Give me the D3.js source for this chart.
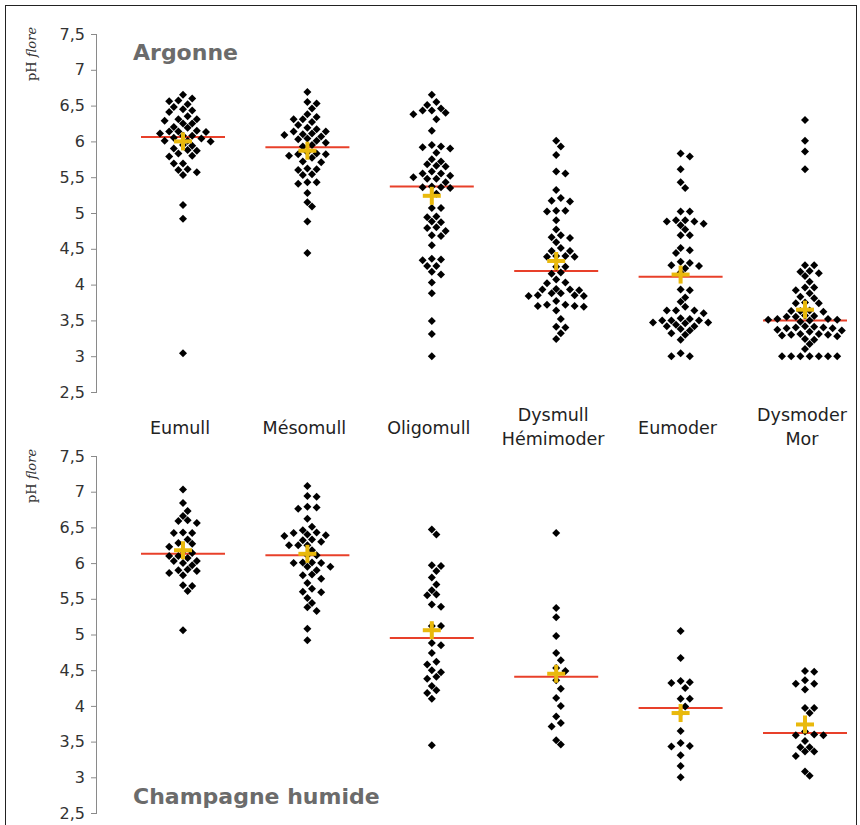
<!DOCTYPE html>
<html>
<head>
<meta charset="utf-8">
<script src="https://cdn.jsdelivr.net/npm/d3@7/dist/d3.min.js"></script>
<style>
  body { margin: 0; background: #fff; }
  svg { display: block; }
</style>
</head>
<body>
<div id="chart"></div>
<script>
// categories (humus forms) and their displayed label lines
const categories = ["Eumull", "Mésomull", "Oligomull", "Dysmull Hémimoder", "Eumoder", "Dysmoder Mor"];
const categoryLines = [["Eumull"], ["Mésomull"], ["Oligomull"], ["Dysmull", "Hémimoder"], ["Eumoder"], ["Dysmoder", "Mor"]];
const yTicks = [2.5, 3, 3.5, 4, 4.5, 5, 5.5, 6, 6.5, 7, 7.5];

// Argonne: pH flore per plot
const argonneValues = [
  [6.65, 6.60, 6.56, 6.57, 6.52, 6.48, 6.45, 6.43, 6.41, 6.35, 6.31, 6.31, 6.29, 6.25, 6.25, 6.19, 6.20, 6.15, 6.13, 6.11,
   6.14, 6.14, 6.08, 6.08, 6.05, 6.04, 6.01, 6.01, 6.00, 5.95, 5.94, 5.90, 5.88, 5.83, 5.87, 5.79, 5.80, 5.69, 5.69, 5.61,
   5.60, 5.57, 5.53, 5.11, 4.92, 3.04],
  [6.69, 6.53, 6.55, 6.46, 6.38, 6.34, 6.31, 6.31, 6.27, 6.23, 6.17, 6.19, 6.14, 6.09, 6.11, 6.14, 6.10, 6.07, 6.03, 6.04,
   5.98, 6.01, 5.95, 5.93, 5.82, 5.83, 5.77, 5.82, 5.80, 5.85, 5.72, 5.71, 5.62, 5.60, 5.61, 5.53, 5.54, 5.43, 5.41, 5.43,
   5.28, 5.15, 5.09, 4.88, 4.44],
  [6.65, 6.55, 6.51, 6.46, 6.43, 6.40, 6.43, 6.38, 6.31, 6.15, 5.92, 5.93, 5.95, 5.90, 5.84, 5.75, 5.66, 5.68, 5.72, 5.65,
   5.58, 5.55, 5.50, 5.48, 5.48, 5.52, 5.55, 5.43, 5.36, 5.37, 5.35, 5.36, 5.27, 5.07, 5.07, 4.94, 4.95, 4.87, 4.88, 4.80,
   4.79, 4.75, 4.68, 4.69, 4.55, 4.34, 4.35, 4.36, 4.26, 4.26, 4.18, 4.14, 4.03, 3.88, 3.49, 3.31, 3.00],
  [6.01, 5.93, 5.81, 5.55, 5.58, 5.32, 5.21, 5.17, 5.16, 5.03, 5.02, 5.03, 4.90, 4.77, 4.69, 4.65, 4.66, 4.59, 4.51, 4.47,
   4.47, 4.39, 4.40, 4.39, 4.40, 4.25, 4.25, 4.17, 4.15, 4.07, 4.02, 4.03, 3.93, 3.92, 3.93, 3.94, 3.88, 3.85, 3.84, 3.84,
   3.85, 3.88, 3.77, 3.72, 3.69, 3.70, 3.70, 3.72, 3.64, 3.52, 3.40, 3.41, 3.32, 3.24],
  [5.83, 5.79, 5.61, 5.43, 5.35, 5.02, 5.02, 4.88, 4.90, 4.90, 4.88, 4.83, 4.85, 4.77, 4.69, 4.69, 4.51, 4.48, 4.44, 4.30,
   4.23, 4.26, 4.27, 4.32, 4.17, 3.92, 3.93, 3.82, 3.76, 3.69, 3.64, 3.60, 3.64, 3.64, 3.53, 3.50, 3.50, 3.50, 3.52, 3.47,
   3.42, 3.44, 3.42, 3.46, 3.47, 3.36, 3.38, 3.30, 3.32, 3.23, 3.04, 3.00, 3.00],
  [6.30, 6.01, 5.86, 5.61, 4.27, 4.27, 4.18, 4.12, 4.16, 4.19, 4.04, 3.96, 3.88, 3.92, 3.96, 3.83, 3.81, 3.74, 3.74, 3.75,
   3.63, 3.62, 3.64, 3.63, 3.56, 3.55, 3.55, 3.57, 3.52, 3.48, 3.51, 3.51, 3.52, 3.50, 3.39, 3.37, 3.41, 3.39, 3.42, 3.40,
   3.40, 3.30, 3.28, 3.30, 3.31, 3.36, 3.34, 3.31, 3.29, 3.23, 3.24, 3.17, 3.10, 3.00, 3.00, 3.00, 3.00, 3.00, 3.00, 3.00]
];
const argonneMedians = [6.06, 5.92, 5.37, 4.19, 4.11, 3.50];
const argonneMeans = [6.00, 5.87, 5.24, 4.33, 4.14, 3.65];

// Champagne humide: pH flore per plot
const champagneValues = [
  [7.03, 6.84, 6.73, 6.66, 6.59, 6.56, 6.60, 6.43, 6.42, 6.42, 6.33, 6.28, 6.27, 6.23, 6.17, 6.14, 6.10, 6.10, 6.07, 6.03,
   6.03, 6.00, 5.97, 5.90, 5.91, 5.89, 5.86, 5.83, 5.69, 5.68, 5.61, 5.06],
  [7.08, 6.93, 6.94, 6.79, 6.76, 6.78, 6.62, 6.51, 6.46, 6.43, 6.40, 6.42, 6.38, 6.39, 6.33, 6.32, 6.30, 6.25, 6.25, 6.25,
   6.18, 6.11, 6.11, 6.01, 6.00, 6.01, 6.00, 5.95, 5.95, 5.90, 5.84, 5.83, 5.78, 5.72, 5.64, 5.59, 5.60, 5.51, 5.44, 5.38,
   5.33, 5.08, 4.92],
  [6.47, 6.40, 5.96, 5.97, 5.89, 5.80, 5.70, 5.62, 5.55, 5.56, 5.39, 5.42, 5.12, 5.12, 4.85, 4.88, 4.74, 4.58, 4.62, 4.47,
   4.50, 4.38, 4.41, 4.28, 4.22, 4.18, 4.10, 3.45],
  [6.42, 5.37, 5.24, 4.98, 4.74, 4.64, 4.53, 4.49, 4.36, 4.24, 4.11, 4.00, 3.85, 3.76, 3.71, 3.52, 3.46],
  [5.05, 4.67, 4.35, 4.32, 4.33, 4.25, 4.10, 4.10, 3.99, 3.90, 3.65, 3.48, 3.44, 3.43, 3.31, 3.16, 3.00],
  [4.48, 4.49, 4.36, 4.31, 4.31, 4.23, 3.97, 3.97, 3.90, 3.64, 3.59, 3.59, 3.60, 3.51, 3.42, 3.42, 3.36, 3.36, 3.30, 3.08,
   3.02]
];
const champagneMedians = [6.13, 6.11, 4.95, 4.41, 3.97, 3.62];
const champagneMeans = [6.18, 6.13, 5.06, 4.45, 3.90, 3.74];

const width = 860;
const height = 825;
const axisX = 97;
const panels = [
  { title: "Argonne", titleY: 60, top: 34, bottom: 392, values: argonneValues, medians: argonneMedians, means: argonneMeans },
  { title: "Champagne humide", titleY: 804, top: 456, bottom: 813, values: champagneValues, medians: champagneMedians, means: champagneMeans }
];

const fontSans = "'DejaVu Sans', 'Noto Sans', sans-serif";
const commaFormat = d3.formatLocale({ decimal: ",", thousands: " ", grouping: [3], currency: ["", "€"] }).format("~g");

const x = d3.scalePoint().domain(categories).range([183, 805]);

const svg = d3.select("#chart")
  .append("svg")
  .attr("width", width)
  .attr("height", height)
  .attr("viewBox", `0 0 ${width} ${height}`);

svg.append("rect")
  .attr("x", 5.5)
  .attr("y", 5.5)
  .attr("width", 851)
  .attr("height", 830)
  .attr("fill", "none")
  .attr("stroke", "#222")
  .attr("stroke-width", 1);

// simple beeswarm: each point takes the nearest free horizontal slot
function swarm(values, y, step, minDist) {
  const placed = [];
  const sorted = values.map((v) => ({ v, py: y(v) })).sort((a, b) => a.py - b.py);
  for (const p of sorted) {
    for (let k = 0; ; k++) {
      const dx = (k % 2 ? 1 : -1) * Math.ceil(k / 2) * step;
      if (placed.every((q) => Math.abs(q.dx - dx) + Math.abs(q.py - p.py) >= minDist)) {
        p.dx = dx;
        break;
      }
    }
    placed.push(p);
  }
  return placed;
}

const diamond = "M0,-4L4,0L0,4L-4,0Z";

panels.forEach((panel) => {
  const y = d3.scaleLinear().domain([2.5, 7.5]).range([panel.bottom, panel.top]);
  const g = svg.append("g");

  // y axis
  g.append("g")
    .attr("transform", `translate(${axisX},0)`)
    .call(d3.axisLeft(y).tickValues(yTicks).tickSize(6).tickPadding(6).tickFormat(commaFormat))
    .call((axis) => axis.select(".domain").attr("stroke", "#8a8a8a").attr("d", `M-0.5,${panel.bottom}V${panel.top}`))
    .call((axis) => axis.selectAll(".tick line").attr("stroke", "#8a8a8a"))
    .call((axis) => axis.selectAll(".tick text")
      .attr("fill", "#333")
      .attr("font-size", 16)
      .attr("font-family", fontSans));

  // axis title
  const mid = panel.top + 20;
  const label = g.append("text")
    .attr("transform", `translate(36,${mid}) rotate(-90)`)
    .attr("text-anchor", "middle")
    .attr("font-family", "'DejaVu Serif', 'Liberation Serif', serif")
    .attr("font-size", 13)
    .attr("fill", "#333");
  label.append("tspan").text("pH ");
  label.append("tspan").attr("font-style", "italic").text("flore");

  // median lines
  g.selectAll(".median")
    .data(categories)
    .join("line")
    .attr("x1", (c) => x(c) - 42)
    .attr("x2", (c) => x(c) + 42)
    .attr("y1", (c, i) => y(panel.medians[i]))
    .attr("y2", (c, i) => y(panel.medians[i]))
    .attr("stroke", "#e8402a")
    .attr("stroke-width", 2);

  // points
  categories.forEach((c, i) => {
    const pts = swarm(panel.values[i], y, 4.6, 8.6);
    g.append("g")
      .selectAll("path")
      .data(pts)
      .join("path")
      .attr("d", diamond)
      .attr("transform", (p) => `translate(${x(c) + p.dx},${p.py})`)
      .attr("fill", "#000");
  });

  // mean crosses
  const cross = g.selectAll(".mean")
    .data(categories)
    .join("g")
    .attr("transform", (c, i) => `translate(${x(c)},${y(panel.means[i])})`);
  cross.append("line").attr("x1", -9).attr("x2", 9).attr("y1", 0).attr("y2", 0);
  cross.append("line").attr("x1", 0).attr("x2", 0).attr("y1", -9).attr("y2", 9);
  cross.selectAll("line").attr("stroke", "#e9b90c").attr("stroke-width", 4);

  // panel title
  g.append("text")
    .attr("x", 133)
    .attr("y", panel.titleY)
    .attr("font-family", fontSans)
    .attr("font-size", 22)
    .attr("font-weight", 700)
    .attr("fill", "#6b6b6b")
    .text(panel.title);
});

// category labels between the panels
const catLabels = svg.append("g")
  .selectAll("text")
  .data(categories)
  .join("text")
  .attr("x", (c) => x(c) - 3)
  .attr("y", (c, i) => (categoryLines[i].length > 1 ? 421 : 434))
  .attr("text-anchor", "middle")
  .attr("font-family", fontSans)
  .attr("font-size", 17.5)
  .attr("fill", "#222");

catLabels.selectAll("tspan")
  .data((c, i) => categoryLines[i])
  .join("tspan")
  .attr("x", function () { return d3.select(this.parentNode).attr("x"); })
  .attr("dy", (d, j) => (j === 0 ? 0 : 24))
  .text((d) => d);
</script>
</body>
</html>
